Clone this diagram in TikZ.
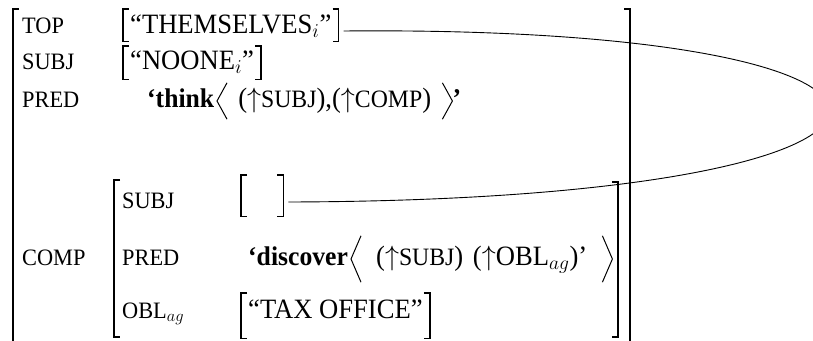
\RequirePackage{fix-cm}
\documentclass[tikz,border=0pt]{standalone}
\usepackage{fontspec}
\setmainfont{Liberation Serif}[FakeStretch=0.95]
\newcommand\lblsize{\fontsize{23.5}{26}\selectfont}
\newcommand\valsize{\fontsize{28}{32}\selectfont}
\newcommand\predsize{\bfseries\fontsize{27}{31}\selectfont}
\newcommand\featsize{\fontsize{25}{28}\selectfont}
% up arrow of a functional designator
\newcommand\upf{$\uparrow$}
% square brackets around a value node
\newcommand\sqbrackets[2][6]{%
  \draw[brk] ([xshift=#1]#2.north west) -- (#2.north west) -- (#2.south west) -- ([xshift=#1]#2.south west);
  \draw[brk] ([xshift=-#1]#2.north east) -- (#2.north east) -- (#2.south east) -- ([xshift=-#1]#2.south east);}
% angle brackets around an argument list
\newcommand\anglebrackets[2][10]{%
  \draw[brk,line width=1pt] ([xshift=#1]#2.north west) -- (#2.west) -- ([xshift=#1]#2.south west);
  \draw[brk,line width=1pt] ([xshift=-#1]#2.north east) -- (#2.east) -- ([xshift=-#1]#2.south east);}
\begin{document}
\begin{tikzpicture}[x=1pt,y=-1pt,
  lbl/.style={anchor=base west,inner sep=0pt,font=\lblsize},
  val/.style={anchor=base west,inner sep=0pt,font=\valsize},
  args/.style={val,inner xsep=14pt},
  brk/.style={line width=1.4pt},
  outerbrk/.style={line width=2pt},
  link/.style={line width=0.9pt}]
\useasboundingbox (0,0) rectangle (813,340);

% outer f-structure
\draw[outerbrk] (19,9) -- (13,9) -- (13,342);
\draw[outerbrk] (624,9) -- (630,9) -- (630,342);

\node[lbl] (ltop)  at (22,33)  {TOP};
\node[lbl] (lsubj) at (22,69)  {SUBJ};
\node[lbl] (lpred) at (22,107) {PRED};
\node[lbl] (lcomp) at (22,265) {COMP};

\node[val,inner xsep=7pt,text height=24pt,text depth=8pt] (themselves) at (123,33) {“THEMSELVES$_i$”};
\sqbrackets{themselves}
\node[val,inner xsep=7pt,text height=23pt,text depth=10pt] (noone) at (123,69) {“NOONE$_i$”};
\sqbrackets{noone}

\node[val,font=\predsize] (think) at (147,107) {‘think};
\node[args,minimum width=235pt,text height=24pt,text depth=12pt] (thinkargs) at (217,107)
  {(\upf{\featsize SUBJ}),(\upf{\featsize COMP})};
\anglebrackets{thinkargs}
\node[val,font=\predsize] (thinkq) at (thinkargs.base east) {’};

% embedded COMP f-structure
\draw[brk] (120,180) -- (114,180) -- (114,337) -- (120,337);
\draw[brk] (612,182) -- (618,182) -- (618,337) -- (612,337);

\node[lbl] (isubj) at (122,208) {SUBJ};
\node[lbl] (ipred) at (122,265) {PRED};
\node[lbl] (iobl)  at (122,318) {OBL$_{ag}$};

\node[val,minimum width=42pt,text height=33pt,text depth=8pt] (emptyv) at (241,208) {};
\sqbrackets{emptyv}

\node[val,font=\predsize] (discover) at (248,265) {‘discover};
\node[args,minimum width=261pt,text height=29pt,text depth=17pt] (discargs) at (351,265)
  {(\upf{\featsize SUBJ})\hspace{3pt} (\upf OBL$_{ag}$)’};
\anglebrackets{discargs}

\node[val,inner xsep=7pt,text height=25pt,text depth=20pt] (taxoffice) at (241,318) {“TAX OFFICE”};
\sqbrackets{taxoffice}

% structure-sharing link between TOP and the embedded SUBJ
\draw[link] ([shift={(5,-2)}]themselves.base east)
  .. controls (1000,25) and (1000,200) .. ([shift={(5,-6)}]emptyv.base east);
\end{tikzpicture}
\end{document}
